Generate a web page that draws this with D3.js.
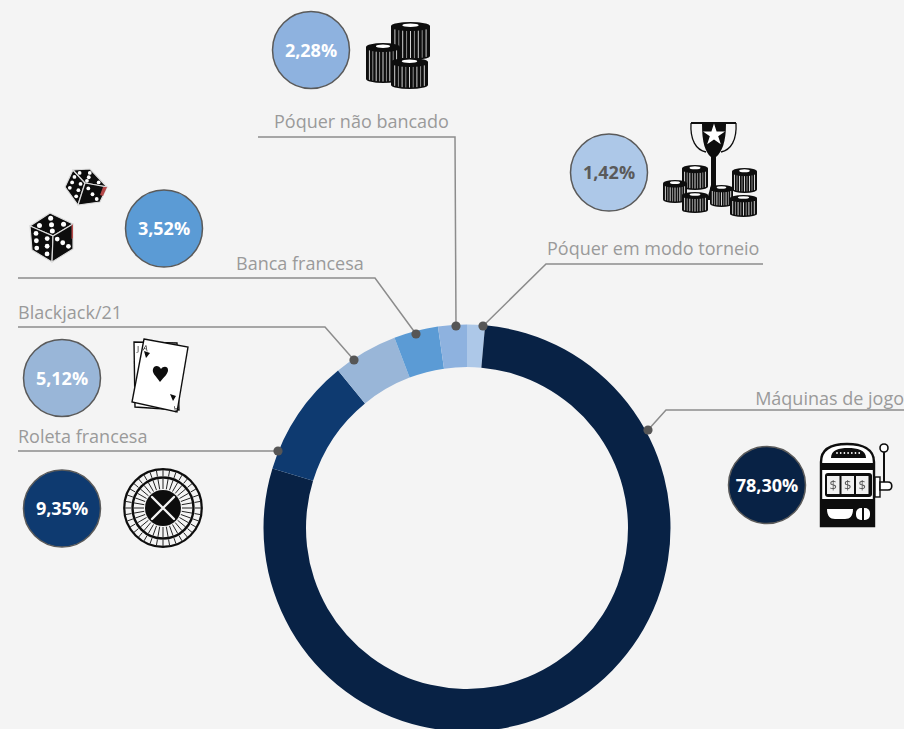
<!DOCTYPE html>
<html>
<head>
<meta charset="utf-8">
<script src="https://cdn.jsdelivr.net/npm/d3@7"></script>
<style>
  html, body { margin: 0; padding: 0; background: #f4f4f4; overflow: hidden; }
  svg { display: block; }
  text { font-family: "Open Sans", sans-serif; }
</style>
</head>
<body>
<div id="graph"></div>
<script>
// slices in drawing order, clockwise from 12 o'clock
var categories = ['Póquer em modo torneio', 'Máquinas de jogo', 'Roleta francesa', 'Blackjack/21', 'Banca francesa', 'Póquer não bancado'];
var shares = [1.42, 78.30, 9.35, 5.12, 3.52, 2.28];
var shareLabels = ['1,42%', '78,30%', '9,35%', '5,12%', '3,52%', '2,28%'];
var colors = ['#adc8e8', '#082245', '#0e3a70', '#99b6d8', '#5b9bd5', '#8eb2df'];

// callout layout, same order as above
var leaders = [
  [[763, 264], [546, 264], [483, 326]],
  [[904, 410], [666, 410], [648, 430]],
  [[18, 451], [278, 451]],
  [[18, 327], [325, 327], [354, 360]],
  [[18, 278], [375, 278], [416, 334]],
  [[258, 137], [455, 137], [456, 326]]
];
var labelPos = [[547, 255, 'start'], [904, 405, 'end'], [18, 443, 'start'], [18, 319, 'start'], [236, 270, 'start'], [274, 128, 'start']];
var bubblePos = [[609, 172.5], [767, 485], [62, 508.5], [62, 378], [164, 228.5], [311, 50]];

var w = 904, h = 729;
var cx = 467, cy = 528, outer = 203.5, inner = 161;

var svg = d3.select('#graph').append('svg')
  .attr('width', w)
  .attr('height', h);

svg.append('rect').attr('width', w).attr('height', h).attr('fill', '#f4f4f4');

// the source icons are soft, scaled-up pictures
svg.append('defs').append('filter')
  .attr('id', 'soft')
  .append('feGaussianBlur')
  .attr('stdDeviation', 0.35);

var pie = d3.pie().sort(null).value(function(d) { return d; });
var arc = d3.arc().innerRadius(inner).outerRadius(outer);

svg.append('g')
  .attr('transform', 'translate(' + cx + ',' + cy + ')')
  .selectAll('path')
  .data(pie(shares))
  .join('path')
  .attr('d', arc)
  .attr('fill', function(d, i) { return colors[i]; });

// leader lines
var line = d3.line();
svg.append('g').selectAll('path')
  .data(leaders)
  .join('path')
  .attr('d', line)
  .attr('fill', 'none')
  .attr('stroke', '#8c8c8c')
  .attr('stroke-width', 1.5);

svg.append('g').selectAll('circle')
  .data(leaders)
  .join('circle')
  .attr('cx', function(d) { return d[d.length - 1][0]; })
  .attr('cy', function(d) { return d[d.length - 1][1]; })
  .attr('r', 4.6)
  .attr('fill', '#565656');

// category labels
svg.append('g').selectAll('text')
  .data(categories)
  .join('text')
  .attr('x', function(d, i) { return labelPos[i][0]; })
  .attr('y', function(d, i) { return labelPos[i][1]; })
  .attr('text-anchor', function(d, i) { return labelPos[i][2]; })
  .attr('font-size', 18)
  .attr('fill', '#9a9a9a')
  .text(function(d) { return d; });

// value bubbles
var bubbles = svg.append('g').selectAll('g')
  .data(shareLabels)
  .join('g')
  .attr('transform', function(d, i) { return 'translate(' + bubblePos[i] + ')'; });

bubbles.append('circle')
  .attr('r', 38.5)
  .attr('fill', function(d, i) { return colors[i]; })
  .attr('stroke', '#5a5a5a')
  .attr('stroke-width', 1.5);

bubbles.append('text')
  .attr('text-anchor', 'middle')
  .attr('y', 6.5)
  .attr('font-size', 18)
  .attr('font-weight', 700)
  .attr('fill', function(d, i) { return i === 0 ? '#5a5a5a' : '#fff'; })
  .text(function(d) { return d; });

// icons
var icons = svg.append('g').attr('filter', 'url(#soft)');

function chips(x0, x1, y0, y1) {
  var g = icons.append('g');
  var cxx = (x0 + x1) / 2, rx = (x1 - x0) / 2, ry = Math.min(4, (y1 - y0) / 7);
  g.append('rect').attr('x', x0).attr('y', y0 + ry).attr('width', x1 - x0).attr('height', y1 - y0 - 2 * ry).attr('fill', '#0b0b0b');
  g.append('ellipse').attr('cx', cxx).attr('cy', y1 - ry).attr('rx', rx).attr('ry', ry).attr('fill', '#0b0b0b');
  g.append('ellipse').attr('cx', cxx).attr('cy', y0 + ry).attr('rx', rx).attr('ry', ry).attr('fill', '#0b0b0b');
  d3.range(1, 10).forEach(function(k) {
    var t = k / 10;
    var px = x0 + (x1 - x0) * t;
    var sag = ry * Math.sqrt(1 - Math.pow(2 * t - 1, 2));
    g.append('line')
      .attr('x1', px).attr('x2', px)
      .attr('y1', y0 + ry + sag + 1).attr('y2', y1 - ry + sag - 1.5)
      .attr('stroke', '#e8e8e8').attr('stroke-width', k % 2 ? 0.9 : 0.6);
  });
  g.append('ellipse').attr('cx', cxx).attr('cy', y0 + ry * 0.8).attr('rx', rx * 0.42).attr('ry', ry * 0.42).attr('fill', '#fff');
}

// top stacks
chips(391, 430, 22, 60);
chips(366, 400, 43, 83);
chips(391, 428, 58, 89);

// trophy
var star = d3.symbol().type(d3.symbolStar).size(150);
icons.append('path')
  .attr('d', 'M691,123 C690,140 696,150 706,152 M736,123 C737,140 731,150 721,152')
  .attr('fill', 'none').attr('stroke', '#111').attr('stroke-width', 1.3);
icons.append('path')
  .attr('d', 'M691,122 H736 V124 H726 C726,142 722,152 716,157 L716,185 L720,200 H707 L711,185 L711,157 C705,152 702,142 702,124 H691 Z')
  .attr('fill', '#0b0b0b');
icons.append('path').attr('d', star()).attr('transform', 'translate(714,135)').attr('fill', '#fff');
chips(682, 708, 165, 190);
chips(663, 687, 180, 203);
chips(710, 733, 185, 207);
chips(732, 757, 168, 193);
chips(682, 708, 192, 213);
chips(730, 757, 195, 217);

// dice: faces given as corners, pips in face coordinates
function face(g, c, pips, r) {
  g.append('path').attr('d', 'M' + c.join('L') + 'Z').attr('fill', '#0b0b0b').attr('stroke', '#dcdcdc').attr('stroke-width', 1.2);
  pips.forEach(function(p) {
    var u = p[0], v = p[1];
    var x = (1 - u) * (1 - v) * c[0][0] + u * (1 - v) * c[1][0] + u * v * c[2][0] + (1 - u) * v * c[3][0];
    var y = (1 - u) * (1 - v) * c[0][1] + u * (1 - v) * c[1][1] + u * v * c[2][1] + (1 - u) * v * c[3][1];
    g.append('circle').attr('cx', x).attr('cy', y).attr('r', r).attr('fill', '#fff');
  });
}
var five = [[.22, .22], [.78, .22], [.5, .5], [.22, .78], [.78, .78]];
var six = [[.25, .2], [.75, .2], [.25, .5], [.75, .5], [.25, .8], [.75, .8]];
var three = [[.22, .22], [.5, .5], [.78, .78]];

var bigDie = icons.append('g');
face(bigDie, [[50, 213], [73, 224], [53, 236], [30, 226]], five, 2.5);
face(bigDie, [[30, 226], [53, 236], [52, 262], [32, 250]], six, 2.4);
face(bigDie, [[53, 236], [73, 224], [73, 249], [52, 262]], three, 2.4);
bigDie.append('path').attr('d', 'M71.5,226 L73,224 L73,238 L71.5,239 Z').attr('fill', '#b5484a');

var smallDie = icons.append('g');
face(smallDie, [[73, 170], [85, 183], [78, 205], [65, 187]], six, 1.9);
face(smallDie, [[73, 170], [90, 169], [107, 187], [85, 183]], five, 1.9);
face(smallDie, [[85, 183], [107, 187], [100, 202], [78, 205]], three, 1.9);
smallDie.append('path').attr('d', 'M103,187 L107,187 L103,196 L100,195 Z').attr('fill', '#b5484a');

// cards
icons.append('path').attr('d', 'M134,342 L177,343 L179,410 L135,407 Z').attr('fill', '#fff').attr('stroke', '#111').attr('stroke-width', 1.4);
icons.append('path').attr('d', 'M144,339 L188,347 L177,412 L132,402 Z').attr('fill', '#fff').attr('stroke', '#111').attr('stroke-width', 1.4);
icons.append('text').attr('x', 137).attr('y', 351).attr('font-size', 8).attr('fill', '#111').text('J');
icons.append('text').attr('x', 143).attr('y', 351).attr('font-size', 8).attr('fill', '#111').attr('transform', 'rotate(10 146 348)').text('A');
icons.append('path').attr('d', 'M160,382 C155,375 152,373 153,369 C154,365 159,365 161,369 C163,366 168,366 168,370 C168,374 164,377 160,382 Z').attr('fill', '#0b0b0b');
icons.append('path').attr('d', 'M144,351 L150,353 L146,358 Z').attr('fill', '#0b0b0b');
icons.append('path').attr('d', 'M170,394 L176,396 L173,401 Z').attr('fill', '#0b0b0b');
icons.append('text').attr('x', 0).attr('y', 0).attr('font-size', 8).attr('fill', '#111').attr('transform', 'translate(179,407) rotate(190)').text('A');

// roulette wheel
var wheel = icons.append('g').attr('transform', 'translate(163,508)');
[[38.8, 2.2], [30.5, 2.4]].forEach(function(d) {
  wheel.append('circle').attr('r', d[0]).attr('fill', 'none').attr('stroke', '#0b0b0b').attr('stroke-width', d[1]);
});
d3.range(36).forEach(function(k) {
  var a = k * Math.PI / 18;
  wheel.append('line')
    .attr('x1', 32 * Math.cos(a)).attr('y1', 32 * Math.sin(a))
    .attr('x2', 38 * Math.cos(a)).attr('y2', 38 * Math.sin(a))
    .attr('stroke', '#222').attr('stroke-width', 1);
  wheel.append('line')
    .attr('x1', 19 * Math.cos(a)).attr('y1', 19 * Math.sin(a))
    .attr('x2', 29.5 * Math.cos(a)).attr('y2', 29.5 * Math.sin(a))
    .attr('stroke', '#222').attr('stroke-width', 1);
});
wheel.append('circle').attr('r', 18).attr('fill', '#0b0b0b');
wheel.append('path').attr('d', 'M-11,-11 L11,11 M-11,11 L11,-11').attr('stroke', '#f4f4f4').attr('stroke-width', 2.4).attr('stroke-linecap', 'round');

// slot machine
var slot = icons.append('g');
slot.append('path').attr('d', 'M821,526 V462 C821,449 832,444 847,444 C862,444 874,449 874,462 V526 Z').attr('fill', '#fff').attr('stroke', '#0b0b0b').attr('stroke-width', 2.4);
slot.append('path').attr('d', 'M831,458 C831,450 839,448 848,448 C857,448 866,450 866,458 Z').attr('fill', '#0b0b0b');
d3.range(7).forEach(function(k) {
  slot.append('circle').attr('cx', 837 + k * 3.7).attr('cy', 453).attr('r', 0.9).attr('fill', '#fff');
});
slot.append('rect').attr('x', 821).attr('y', 463).attr('width', 53).attr('height', 7).attr('fill', '#0b0b0b');
slot.append('rect').attr('x', 825).attr('y', 473).attr('width', 47).attr('height', 24).attr('rx', 3).attr('fill', '#0b0b0b');
[827, 841.5, 856].forEach(function(x) {
  slot.append('rect').attr('x', x).attr('y', 476).attr('width', 12.5).attr('height', 18).attr('fill', '#f0f0f0');
  slot.append('text').attr('x', x + 6.2).attr('y', 490).attr('text-anchor', 'middle').attr('font-size', 13).attr('fill', '#555').text('$');
});
slot.append('rect').attr('x', 820).attr('y', 499).attr('width', 55).attr('height', 27).attr('fill', '#0b0b0b');
slot.append('path').attr('d', 'M827,509 H853 C853,516 850,519 845,519 H835 C830,519 827,516 827,509 Z').attr('fill', '#fff');
slot.append('rect').attr('x', 856).attr('y', 508).attr('width', 14).attr('height', 12).attr('rx', 5).attr('fill', '#fff');
slot.append('rect').attr('x', 862).attr('y', 508).attr('width', 2).attr('height', 12).attr('fill', '#0b0b0b');
slot.append('rect').attr('x', 875).attr('y', 477).attr('width', 5).attr('height', 20).attr('fill', '#fff').attr('stroke', '#0b0b0b').attr('stroke-width', 1.4);
slot.append('line').attr('x1', 884).attr('x2', 884).attr('y1', 452).attr('y2', 483).attr('stroke', '#0b0b0b').attr('stroke-width', 2);
slot.append('circle').attr('cx', 884).attr('cy', 448).attr('r', 4).attr('fill', '#fff').attr('stroke', '#0b0b0b').attr('stroke-width', 1.6);
slot.append('path').attr('d', 'M880,482 H888 C893,482 893,490 888,490 H880 Z').attr('fill', '#fff').attr('stroke', '#0b0b0b').attr('stroke-width', 1.6);
</script>
</body>
</html>
